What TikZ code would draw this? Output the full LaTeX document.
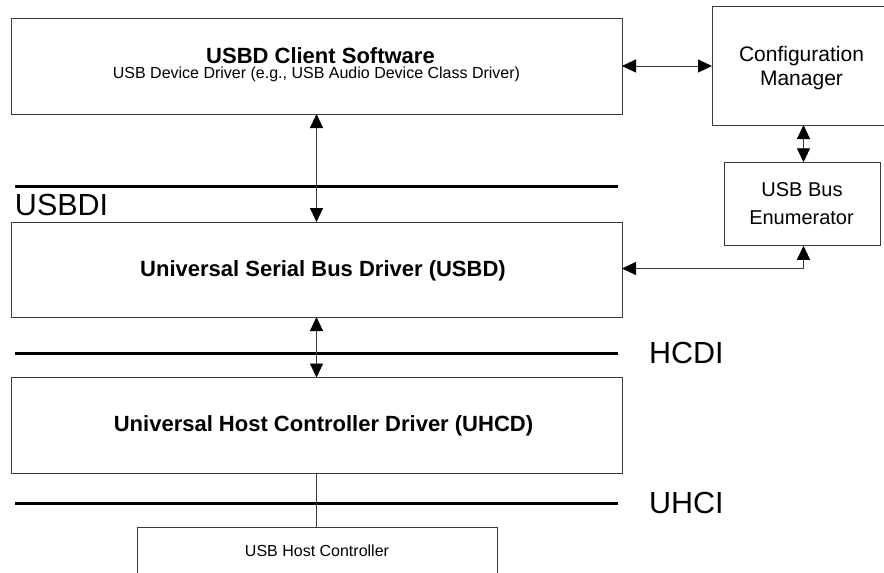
\documentclass[tikz,border=0pt]{standalone}
\usepackage{fontspec}
\setmainfont{Liberation Sans}
\usetikzlibrary{arrows.meta}
\definecolor{boxline}{HTML}{3A3A3A}
\begin{document}
\begin{tikzpicture}[x=1pt,y=-1pt,
  box/.style={draw=boxline,line width=0.9pt,fill=white,inner sep=0pt,outer sep=0pt},
  txt/.style={inner sep=0pt,outer sep=0pt,anchor=base,text=black},
  bold22/.style={txt,font=\fontsize{22}{26}\selectfont\bfseries},
  reg16/.style={txt,font=\fontsize{16}{19}\selectfont},
  reg21/.style={txt,font=\fontsize{21}{24}\selectfont},
  reg20/.style={txt,font=\fontsize{20}{24}\selectfont},
  iface/.style={inner sep=0pt,outer sep=0pt,anchor=base west,font=\fontsize{30.5}{34}\selectfont},
  bus/.style={line width=3pt,black},
  conn/.style={draw=boxline,line width=0.9pt},
  tip/.style={Triangle[length=14pt,width=13pt,fill=black,color=black]},
  biarr/.style={conn,{Triangle[length=14pt,width=13pt,fill=black,color=black]}-{Triangle[length=14pt,width=13pt,fill=black,color=black]}}
]
\useasboundingbox (0,0) rectangle (884,573);
\clip (0,0) rectangle (884,573);
\fill[white] (0,0) rectangle (884,573);

% boxes
\node[box,minimum width=611pt,minimum height=96pt] (top) at (316.5,66) {};
\node[box,minimum width=183pt,minimum height=119pt] (cfg) at (803.5,65.5) {};
\node[box,minimum width=156pt,minimum height=83.5pt] (enum) at (802,204) {};
\node[box,minimum width=611pt,minimum height=95pt] (usbd) at (316.5,269.5) {};
\node[box,minimum width=611pt,minimum height=95.5pt] (uhcd) at (316.5,425.25) {};
\node[box,minimum width=360pt,minimum height=63pt] (hc) at (317,558.5) {};

% texts
\node[bold22] (toptitle) at (320.5,63) {USBD Client Software};
\node[reg16] (topsub) at (316.5,78.3) {USB Device Driver (e.g., USB Audio Device Class Driver)};
\node[reg21] (cfg1) at (801.5,61) {Configuration};
\node[reg21] (cfg2) at (801.5,85) {Manager};
\node[reg20] (enum1) at (802,196.7) {USB Bus};
\node[reg20] (enum2) at (801.5,224) {Enumerator};
\node[bold22] (usbdtext) at (323,276.7) {Universal Serial Bus Driver (USBD)};
\node[bold22] (uhcdtext) at (323.5,431.7) {Universal Host Controller Driver (UHCD)};
\node[reg16] (hctext) at (317,556.7) {USB Host Controller};

% interface lines and labels
\coordinate (usbdiL) at (15,186);
\coordinate (usbdiR) at (618,186);
\coordinate (hcdiL) at (15,353);
\coordinate (hcdiR) at (618,353);
\coordinate (uhciL) at (15,503.5);
\coordinate (uhciR) at (618,503.5);
\draw[bus] (usbdiL) -- (usbdiR);
\draw[bus] (hcdiL) -- (hcdiR);
\draw[bus] (uhciL) -- (uhciR);
\node[iface] (usbdi) at (15,215.7) {USBDI};
\node[iface] (hcdi) at (649,363) {HCDI};
\node[iface] (uhci) at (649,513) {UHCI};

% connectors
\draw[biarr] (top.south) -- (usbd.north);
\draw[biarr] (usbd.south) -- (uhcd.north);
\draw[conn] (uhcd.south) -- (uhcd.south |- hc.north);
\draw[biarr] (top.east) -- (top.east -| cfg.west);
\draw[biarr] (cfg.south) -- (cfg.south |- enum.north);
\coordinate (bend) at (803.5,268.5);
\draw[biarr] (usbd.east |- bend) -- (bend) -- (bend |- enum.south);
\end{tikzpicture}
\end{document}
